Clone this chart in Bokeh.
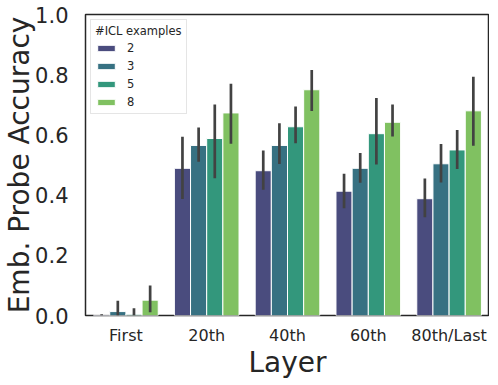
from bokeh.plotting import figure
from bokeh.models import ColumnDataSource, FactorRange, FixedTicker, NumeralTickFormatter, Legend, LegendItem
from bokeh.transform import dodge
from bokeh.embed import file_html
from bokeh.resources import INLINE

layers = ["First", "20th", "40th", "60th", "80th/Last"]
hues = ["2", "3", "5", "8"]
colors = ["#4a4c7e", "#377182", "#33977c", "#80c161"]

acc_2 = [0.002, 0.489, 0.481, 0.413, 0.388]
lo_2 = [0.0, 0.387, 0.418, 0.356, 0.326]
hi_2 = [0.004, 0.594, 0.548, 0.471, 0.455]

acc_3 = [0.013, 0.565, 0.565, 0.489, 0.504]
lo_3 = [0.0, 0.511, 0.503, 0.441, 0.442]
hi_3 = [0.049, 0.625, 0.639, 0.540, 0.570]

acc_5 = [0.004, 0.588, 0.627, 0.604, 0.550]
lo_5 = [0.0, 0.456, 0.572, 0.502, 0.487]
hi_5 = [0.024, 0.701, 0.694, 0.723, 0.616]

acc_8 = [0.051, 0.673, 0.750, 0.642, 0.680]
lo_8 = [0.011, 0.571, 0.679, 0.595, 0.564]
hi_8 = [0.100, 0.770, 0.816, 0.701, 0.793]

series = [(acc_2, lo_2, hi_2), (acc_3, lo_3, hi_3), (acc_5, lo_5, hi_5), (acc_8, lo_8, hi_8)]
offsets = [-0.3, -0.1, 0.1, 0.3]

FONT = "DejaVu Sans"
TXT = "#262626"

p = figure(x_range=FactorRange(factors=layers, range_padding=0), y_range=(0, 1.0),
           frame_width=404, frame_height=301,
           min_border_left=78, min_border_right=0, min_border_top=14, min_border_bottom=52,
           output_backend="svg", toolbar_location=None)

items = []
for h, (acc, lo, hi), col, off in zip(hues, series, colors, offsets):
    src = ColumnDataSource(dict(layer=layers, acc=acc, lo=lo, hi=hi))
    r = p.vbar(x=dodge("layer", off, range=p.x_range), top="acc", bottom=0, width=0.2, source=src,
               fill_color=col, line_color="white", line_width=1)
    p.segment(x0=dodge("layer", off, range=p.x_range), x1=dodge("layer", off, range=p.x_range),
              y0="lo", y1="hi", source=src, line_color="#424242", line_width=2.7)
    items.append(LegendItem(label=h, renderers=[r]))

legend = Legend(items=items, location="top_left", title="#ICL examples",
                title_text_font=FONT, title_text_font_size="11.5px", title_text_color=TXT,
                title_text_font_style="normal", title_standoff=3,
                label_text_font=FONT, label_text_font_size="11.5px", label_text_color=TXT,
                glyph_width=22, glyph_height=8, label_standoff=10, label_height=13,
                spacing=4, padding=4, margin=5,
                border_line_color="#cccccc", border_line_width=1,
                background_fill_color="white", background_fill_alpha=0.8)
p.add_layout(legend)

p.xgrid.visible = False
p.ygrid.visible = False
p.outline_line_color = "#262626"
p.outline_line_width = 1.5
p.outline_line_alpha = 1.0

for ax in (p.xaxis[0], p.yaxis[0]):
    ax.axis_line_color = None
    ax.major_tick_line_color = None
    ax.minor_tick_line_color = None
    ax.major_label_text_font = FONT
    ax.major_label_text_color = TXT
    ax.axis_label_text_font = FONT
    ax.axis_label_text_color = TXT
    ax.axis_label_text_font_style = "normal"
    ax.axis_label_text_font_size = "28px"

p.yaxis.ticker = FixedTicker(ticks=[0.0, 0.2, 0.4, 0.6, 0.8, 1.0])
p.yaxis.formatter = NumeralTickFormatter(format="0.0")
p.yaxis.major_label_text_font_size = "21px"
p.yaxis.major_label_standoff = 11
p.yaxis.axis_label = "Emb. Probe Accuracy"
p.yaxis.axis_label_standoff = -4

p.xaxis.major_label_text_font_size = "16px"
p.xaxis.major_label_standoff = 4
p.xaxis.axis_label = "Layer"
p.xaxis.axis_label_standoff = -2

open("out.html", "w").write(file_html(p, INLINE))
